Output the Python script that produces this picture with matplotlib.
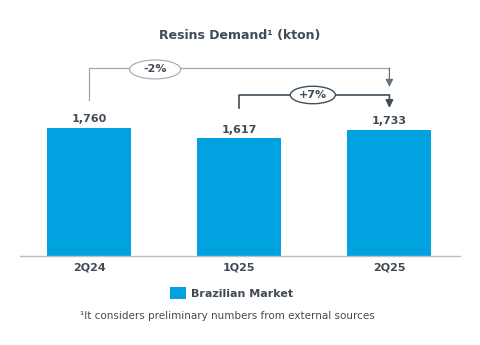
import matplotlib
matplotlib.use("Agg")
import matplotlib.pyplot as plt
from matplotlib.patches import Ellipse, Patch

categories = ["2Q24", "1Q25", "2Q25"]
values = [1760, 1617, 1733]
value_labels = ["1,760", "1,617", "1,733"]
series_name = "Brazilian Market"
changes = ["-2%", "+7%"]

BAR = "#00A3DF"
TXT = "#404B55"
DARK = "#3E4E5A"
LIGHT = "#A6A6A6"

plt.rcParams['font.family'] = ['DejaVu Sans']

fig = plt.figure(figsize=(4.8, 3.45), dpi=100)
ax = fig.add_axes([20/480, (345-256)/345, 440/480, 200/345])
x = list(range(len(categories)))
ax.bar(x, values, width=0.56, color=BAR, zorder=2)
ax.set_xlim(-0.46, 2.47)
ax.set_ylim(0, 2750)
for s in ["top", "right", "left"]:
    ax.spines[s].set_visible(False)
ax.spines["bottom"].set_color("#BFBFBF")
ax.spines["bottom"].set_linewidth(1.0)
ax.set_yticks([])
ax.set_xticks(x)
ax.set_xticklabels(categories, fontsize=8, fontweight="bold", color=TXT)
ax.tick_params(axis="x", length=0, pad=5)

for xi, v, lab in zip(x, values, value_labels):
    ax.text(xi, v + 50, lab, ha="center", va="bottom", fontsize=8,
            fontweight="bold", color=TXT)

# -2% bracket (2Q24 -> 2Q25)
y_top1 = 2585
ax.plot([x[0], x[0], x[2]], [values[0] + 385, y_top1, y_top1],
        color=LIGHT, lw=0.9, clip_on=False)
ax.annotate("", xy=(x[2], values[2] + 590), xytext=(x[2], y_top1),
            arrowprops=dict(arrowstyle="-|>,head_length=0.45,head_width=0.22",
                            color="#5F7480", lw=0.9, shrinkA=0, shrinkB=0),
            annotation_clip=False)
ax.add_patch(Ellipse((0.44, y_top1 - 20), 0.34, 260, facecolor="white",
                     edgecolor=LIGHT, lw=0.8, zorder=3, clip_on=False))
ax.text(0.44, y_top1 - 20, changes[0], ha="center", va="center", fontsize=8,
        fontweight="bold", color=TXT, zorder=4)

# +7% bracket (1Q25 -> 2Q25)
y_top2 = 2214
ax.plot([x[1], x[1], x[2]], [values[1] + 418, y_top2, y_top2],
        color=DARK, lw=1.2, clip_on=False)
ax.annotate("", xy=(x[2], values[2] + 302), xytext=(x[2], y_top2),
            arrowprops=dict(arrowstyle="-|>,head_length=0.45,head_width=0.22",
                            color=DARK, lw=1.2, shrinkA=0, shrinkB=0),
            annotation_clip=False)
ax.add_patch(Ellipse((1.49, y_top2), 0.30, 240, facecolor="white",
                     edgecolor=DARK, lw=1.0, zorder=3, clip_on=False))
ax.text(1.49, y_top2, changes[1], ha="center", va="center", fontsize=8,
        fontweight="bold", color=TXT, zorder=4)

fig.text(0.5, 1 - 35/345, "Resins Demand\u00b9 (kton)", ha="center", va="center",
         fontsize=9, fontweight="bold", color=TXT)

leg = fig.legend(handles=[Patch(facecolor=BAR, label=series_name)],
                 loc="center", bbox_to_anchor=(232/480, 1 - 293/345), frameon=False,
                 prop=dict(size=8, weight="bold"), handlelength=1.4,
                 handleheight=1.4, handletextpad=0.5)
for t in leg.get_texts():
    t.set_color(TXT)

fig.text(227/480, 1 - 316/345, "\u00b9It considers preliminary numbers from external sources",
         ha="center", va="center", fontsize=7.5, color=TXT)

fig.savefig("out.png", dpi=100)
